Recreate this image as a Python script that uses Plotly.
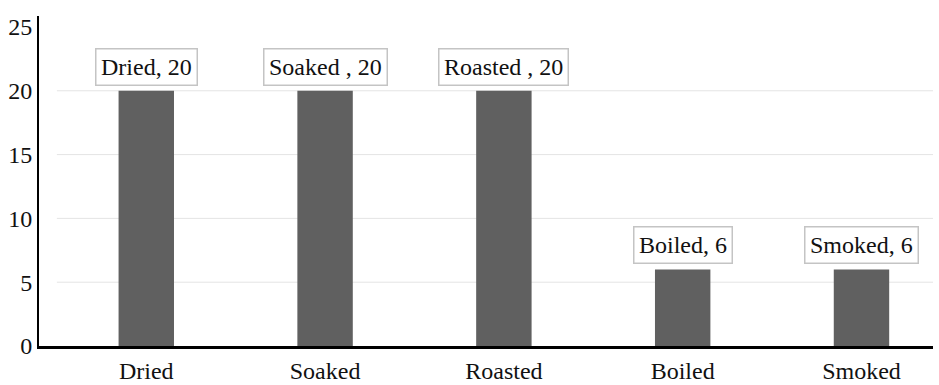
import plotly.graph_objects as go

# Processing methods and their counts
categories = ["Dried", "Soaked", "Roasted", "Boiled", "Smoked"]
values = [20, 20, 20, 6, 6]
label_texts = ["Dried, 20", "Soaked , 20", "Roasted , 20", "Boiled, 6", "Smoked, 6"]
y_ticks = [0, 5, 10, 15, 20, 25]

FONT = "'Times New Roman', 'Liberation Serif', serif"
FONT_SIZE = 24

fig = go.Figure()
fig.add_trace(go.Bar(
    x=list(range(len(categories))),
    y=values,
    width=0.31,
    marker=dict(color="#606060", line=dict(width=0)),
    hoverinfo="skip",
))

# Light horizontal gridlines spanning the category area
for t in y_ticks[1:-1]:
    fig.add_shape(type="line", xref="x", yref="y", x0=-0.5, x1=4.4, y0=t, y1=t,
                  line=dict(color="#e4e4e4", width=1), layer="below")

# Boxed value labels above each bar
for i, (txt, v) in enumerate(zip(label_texts, values)):
    fig.add_annotation(x=i, y=v, text=txt, showarrow=False,
                       yanchor="bottom", yshift=5,
                       font=dict(family=FONT, size=FONT_SIZE, color="#111111"),
                       bgcolor="white", bordercolor="#c4c4c4", borderwidth=1.5,
                       borderpad=4.5)

fig.update_layout(
    template="none",
    width=939, height=385,
    margin=dict(l=39, r=6, t=16, b=39, autoexpand=False),
    paper_bgcolor="white", plot_bgcolor="white",
    showlegend=False,
    font=dict(family=FONT, size=FONT_SIZE, color="#111111"),
    xaxis=dict(
        range=[-0.6, 4.4], tickmode="array", tickvals=list(range(len(categories))),
        ticktext=categories, showgrid=False, zeroline=False, automargin=False,
        showline=True, linecolor="black", linewidth=3, ticks="", ticklen=0,
        ticklabelstandoff=1,
        tickfont=dict(family=FONT, size=FONT_SIZE, color="#111111"),
    ),
    yaxis=dict(
        range=[0, 25.86], tickmode="array", tickvals=y_ticks, showgrid=False,
        zeroline=False, showline=True, linecolor="black", linewidth=2,
        automargin=False, ticks="", ticklen=0,
        tickfont=dict(family=FONT, size=FONT_SIZE, color="#111111"),
    ),
)

fig.write_html("out.html")
